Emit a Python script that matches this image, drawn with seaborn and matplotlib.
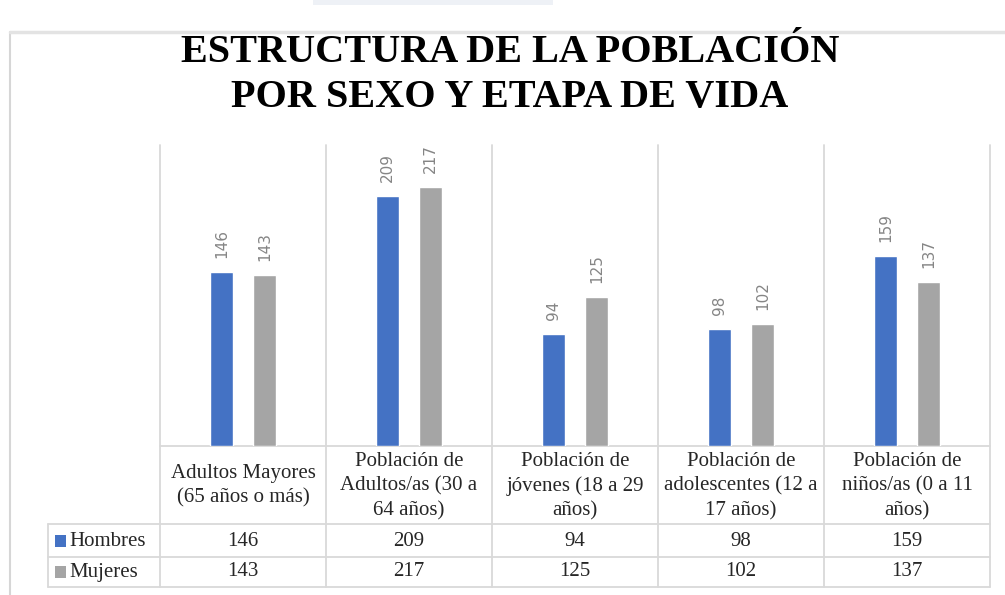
import matplotlib
matplotlib.use("Agg")
import matplotlib.pyplot as plt
import matplotlib.transforms as mtransforms
import seaborn as sns
import pandas as pd

categories = ["Adultos Mayores", "Población de Adultos/as", "Población de jóvenes",
              "Población de adolescentes", "Población de niños/as"]
header_labels = ["Adultos Mayores\n(65 años o más)",
                 "Población de\nAdultos/as (30 a\n64 años)",
                 "Población de\njóvenes (18 a 29\naños)",
                 "Población de\nadolescentes (12 a\n17 años)",
                 "Población de\nniños/as (0 a 11\naños)"]
series = ["Hombres", "Mujeres"]
hombres = [146, 209, 94, 98, 159]
mujeres = [143, 217, 125, 102, 137]
colors = {"Hombres": "#4472c4", "Mujeres": "#a5a5a5"}

df = pd.DataFrame({
    "categoria": categories * 2,
    "sexo": ["Hombres"] * len(categories) + ["Mujeres"] * len(categories),
    "valor": hombres + mujeres,
})

sns.set_theme(style="white")
plt.rcParams["font.family"] = ["DejaVu Sans"]
grid_c = "#d9d9d9"

W, H = 1005, 595
fig = plt.figure(figsize=(W / 100, H / 100), dpi=100)
fig.patch.set_facecolor("white")

# overlay in pixel coordinates for frame, title and table
ov = fig.add_axes([0, 0, 1, 1], zorder=0)
ov.set_xlim(0, W)
ov.set_ylim(H, 0)
ov.axis("off")

# bar area
ax = fig.add_axes([160 / W, 1 - 446 / H, 830 / W, 301 / H], zorder=2)
ax.patch.set_alpha(0)
sns.barplot(data=df, x="categoria", y="valor", hue="sexo", order=categories,
            hue_order=series, palette=colors, width=0.52, gap=0.465,
            saturation=1, legend=False, ax=ax)
for cont in ax.containers:
    ax.bar_label(cont, rotation=90, padding=10, color="#858585", fontsize=11)
ax.set_xlim(-0.5, len(categories) - 0.5)
ax.set_ylim(0, 252)
ax.set_xticks([])
ax.set_yticks([])
ax.set_xlabel("")
ax.set_ylabel("")
for s in ax.spines.values():
    s.set_visible(False)

# top strip and outer frame
ov.add_patch(plt.Rectangle((313, 0), 240, 5, color="#eef1f6", lw=0))
ov.plot([10, 10], [32, H], color="#d6d6d6", lw=1.5)
ov.plot([10, W], [32, 32], color="#e3e3e3", lw=2.5)

# title
ov.text(510, 53, "ESTRUCTURA DE LA POBLACIÓN", ha="center", va="center",
        fontsize=29, fontweight="bold", family="Liberation Serif", color="black")
ov.text(510, 97, "POR SEXO Y ETAPA DE VIDA", ha="center", va="center",
        fontsize=29, fontweight="bold", family="Liberation Serif", color="black")

# table grid
tr = mtransforms.blended_transform_factory(ax.transData, ov.transData)
n = len(categories)
for i in range(n + 1):
    ov.plot([i - 0.5, i - 0.5], [145, 587], color=grid_c, lw=1.3, transform=tr)
ov.plot([-0.5, n - 0.5], [446, 446], color=grid_c, lw=1.3, transform=tr)
for yy in [524, 557, 587]:
    ov.plot([48, 990], [yy, yy], color=grid_c, lw=1.3)
ov.plot([48, 48], [524, 587], color=grid_c, lw=1.3)

serif = "Liberation Serif"
fs = 15
for i, lab in enumerate(header_labels):
    ov.text(i, 486, lab, ha="center", va="center", fontsize=fs,
            family=serif, linespacing=1.38, transform=tr)
    ov.text(i, 541, str(hombres[i]), ha="center", va="center", fontsize=fs,
            family=serif, transform=tr)
    ov.text(i, 572, str(mujeres[i]), ha="center", va="center", fontsize=fs,
            family=serif, transform=tr)

for name, yy in zip(series, [541, 572]):
    ov.add_patch(plt.Rectangle((55, yy - 6), 11, 12, color=colors[name], lw=0))
    ov.text(69, yy, name, ha="left", va="center", fontsize=fs, family=serif)

fig.savefig("out.png", dpi=100)
